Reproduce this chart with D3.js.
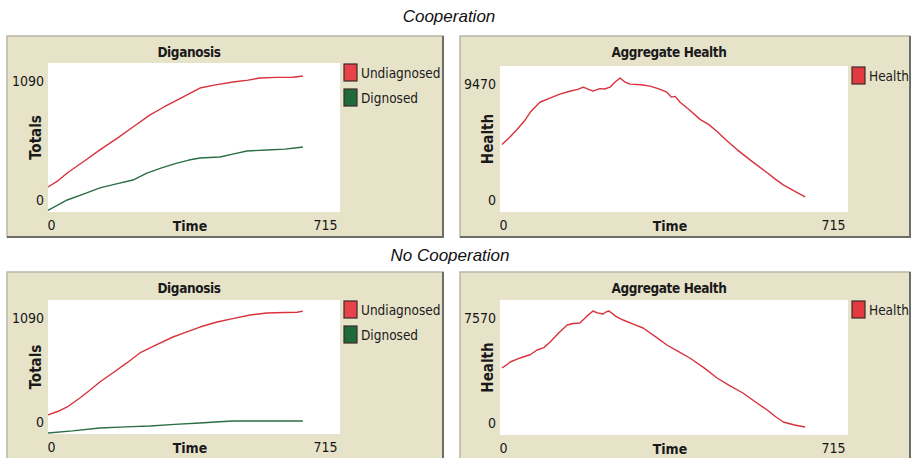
<!DOCTYPE html>
<html>
<head>
<meta charset="utf-8">
<script src="https://cdn.jsdelivr.net/npm/d3@7"></script>
<style>
  body { margin: 0; background: #fff; }
  svg { display: block; }
  .tick text { font-family: "DejaVu Sans Condensed", "Liberation Sans Narrow", sans-serif; font-size: 14px; fill: #161616; }
</style>
</head>
<body>
<script>
// values: [time, value]
const coopUndiagnosed = [[0,183],[25,230],[47,285],[90,375],[127,454],[170,540],[208,622],[250,710],[285,770],[316,819],[345,865],[372,907],[410,930],[453,951],[490,965],[519,980],[560,985],[600,986],[624,995]];
const coopDiagnosed = [[0,12],[47,88],[90,135],[127,176],[170,208],[208,234],[242,285],[280,325],[316,358],[345,380],[372,395],[421,402],[455,425],[487,446],[536,454],[580,460],[610,470],[624,475]];
const nocoopUndiagnosed = [[0,155],[25,185],[47,220],[78,293],[100,350],[127,423],[160,500],[193,578],[225,659],[265,725],[306,789],[340,830],[372,870],[414,911],[455,940],[495,968],[536,984],[580,988],[610,990],[624,1000]];
const nocoopDiagnosed = [[0,8],[60,25],[127,49],[190,58],[250,65],[310,78],[372,90],[420,100],[453,106],[540,106],[624,106]];
const coopHealth = [[4,4376],[20,4850],[35,5355],[50,5900],[62,6466],[72,6800],[82,7119],[100,7350],[123,7641],[145,7850],[160,7950],[171,8098],[182,7950],[191,7837],[205,8000],[215,7980],[226,8098],[237,8450],[247,8686],[257,8420],[267,8294],[290,8250],[308,8164],[325,8000],[343,7772],[352,7450],[360,7500],[370,7119],[390,6600],[411,6009],[430,5650],[446,5225],[465,4650],[487,4049],[515,3350],[549,2547],[565,2150],[582,1763],[605,1350],[627,980]];
const nocoopHealth = [[4,3757],[12,3900],[21,4093],[35,4250],[47,4373],[62,4500],[76,4766],[90,4900],[103,5214],[120,5700],[138,6168],[150,6250],[164,6280],[178,6650],[191,6953],[200,6850],[212,6784],[218,6900],[224,6953],[238,6650],[253,6448],[275,6200],[294,5999],[320,5500],[343,5046],[365,4700],[390,4317],[420,3750],[446,3196],[470,2800],[499,2355],[525,1850],[549,1402],[565,1050],[582,729],[605,560],[627,449]];

const timeMax = 715;
const diagMax = 1090;
const coopHealthMax = 9470;
const nocoopHealthMax = 7570;

const red = "#d8323c", green = "#2b6e45";
const narrow = '"DejaVu Sans Condensed", "Liberation Sans Narrow", sans-serif';

const svg = d3.select("body").append("svg")
  .attr("width", 911)
  .attr("height", 458);

// section headings
svg.append("text").attr("x", 449).attr("y", 22).attr("text-anchor", "middle")
  .attr("font-family", "Liberation Sans, Arial, sans-serif").attr("font-style", "italic")
  .attr("font-size", "17px").attr("fill", "#111").text("Cooperation");
svg.append("text").attr("x", 450).attr("y", 261).attr("text-anchor", "middle")
  .attr("font-family", "Liberation Sans, Arial, sans-serif").attr("font-style", "italic")
  .attr("font-size", "17px").attr("fill", "#111").text("No Cooperation");

function drawPlot(opts) {
  const g = svg.append("g");
  const p = opts.panel, a = opts.area;

  // beige widget box
  g.append("rect").attr("x", p.x).attr("y", p.y).attr("width", p.w).attr("height", p.h)
    .attr("fill", "#e7e3c9").attr("stroke", "#b8b6a6").attr("stroke-width", 1.5);
  g.append("path")
    .attr("d", `M${p.x + p.w},${p.y} V${p.y + p.h} H${p.x}`)
    .attr("fill", "none").attr("stroke", "#6e6e68").attr("stroke-width", 2);

  g.append("rect").attr("x", a.x0).attr("y", a.y0).attr("width", a.x1 - a.x0).attr("height", a.y1 - a.y0)
    .attr("fill", "#fff");

  const x = d3.scaleLinear().domain([0, timeMax]).range([a.x0, a.x1]);
  const y = d3.scaleLinear().domain([0, opts.yMax]).range([a.y1, a.y0]);

  // y axis: min/max labels only, netlogo style
  const ya = g.append("g").attr("transform", `translate(${a.x0},0)`)
    .call(d3.axisLeft(y).tickValues([0, opts.yMax]).tickSize(0).tickPadding(4).tickFormat(d3.format("d")));
  ya.select(".domain").remove();
  ya.selectAll(".tick text").attr("y", d => d === 0 ? -12 : 18);

  const xa = g.append("g").attr("transform", `translate(0,${a.y1})`)
    .call(d3.axisBottom(x).tickValues([0, timeMax]).tickSize(0).tickFormat(d3.format("d")));
  xa.select(".domain").remove();
  xa.selectAll(".tick text")
    .attr("y", 8)
    .attr("x", d => d === 0 ? -1 : -3)
    .attr("text-anchor", d => d === 0 ? "start" : "end");

  // titles
  g.append("text").attr("x", (a.x0 + a.x1) / 2 - 5).attr("y", p.y + 21).attr("text-anchor", "middle")
    .attr("font-family", narrow).attr("font-weight", "bold").attr("font-size", "13.5px")
    .attr("letter-spacing", "-0.4px")
    .attr("fill", "#1a1a1a").text(opts.title);
  g.append("text").attr("x", (a.x0 + a.x1) / 2 - 4).attr("y", a.y1 + 19).attr("text-anchor", "middle")
    .attr("font-family", narrow).attr("font-weight", "bold").attr("font-size", "14px")
    .attr("fill", "#1a1a1a").text("Time");
  g.append("text")
    .attr("transform", `translate(${a.x0 - 7},${(a.y0 + a.y1) / 2}) rotate(-90)`)
    .attr("text-anchor", "middle")
    .attr("font-family", narrow).attr("font-weight", "bold").attr("font-size", "15px")
    .attr("fill", "#1a1a1a").text(opts.yTitle);

  const line = d3.line().x(d => x(d[0])).y(d => y(d[1]));
  opts.series.forEach(s => {
    g.append("path").datum(s.data)
      .attr("d", line)
      .attr("fill", "none")
      .attr("stroke", s.color)
      .attr("stroke-width", 1.4)
      .attr("stroke-linejoin", "round");
  });

  // legend
  const lg = g.append("g").attr("transform", `translate(${a.x1 + 4},${a.y0})`);
  opts.series.forEach((s, i) => {
    lg.append("rect").attr("x", 0).attr("y", 1 + i * 25).attr("width", 13).attr("height", 17)
      .attr("fill", s.swatch).attr("stroke", "#3a2a2a").attr("stroke-width", 1.2);
    lg.append("text").attr("x", 17).attr("y", 10 + i * 25).attr("dy", "0.35em")
      .attr("font-family", narrow).attr("font-size", "13.5px").attr("fill", "#1a1a1a").text(s.name);
  });
}

drawPlot({
  panel: { x: 7, y: 36, w: 436, h: 201 },
  area: { x0: 48, x1: 340, y0: 63, y1: 212 },
  yMax: diagMax, title: "Diganosis", yTitle: "Totals",
  series: [
    { name: "Undiagnosed", data: coopUndiagnosed, color: red, swatch: "#e8434a" },
    { name: "Dignosed", data: coopDiagnosed, color: green, swatch: "#1f6a3a" }
  ]
});
drawPlot({
  panel: { x: 460, y: 36, w: 450, h: 201 },
  area: { x0: 500, x1: 848, y0: 66, y1: 212 },
  yMax: coopHealthMax, title: "Aggregate Health", yTitle: "Health",
  series: [{ name: "Health", data: coopHealth, color: red, swatch: "#e23a40" }]
});
drawPlot({
  panel: { x: 7, y: 272, w: 436, h: 190 },
  area: { x0: 48, x1: 340, y0: 300, y1: 434 },
  yMax: diagMax, title: "Diganosis", yTitle: "Totals",
  series: [
    { name: "Undiagnosed", data: nocoopUndiagnosed, color: red, swatch: "#e8434a" },
    { name: "Dignosed", data: nocoopDiagnosed, color: green, swatch: "#1f6a3a" }
  ]
});
drawPlot({
  panel: { x: 460, y: 272, w: 450, h: 190 },
  area: { x0: 500, x1: 848, y0: 300, y1: 435 },
  yMax: nocoopHealthMax, title: "Aggregate Health", yTitle: "Health",
  series: [{ name: "Health", data: nocoopHealth, color: red, swatch: "#e23a40" }]
});
</script>
</body>
</html>
